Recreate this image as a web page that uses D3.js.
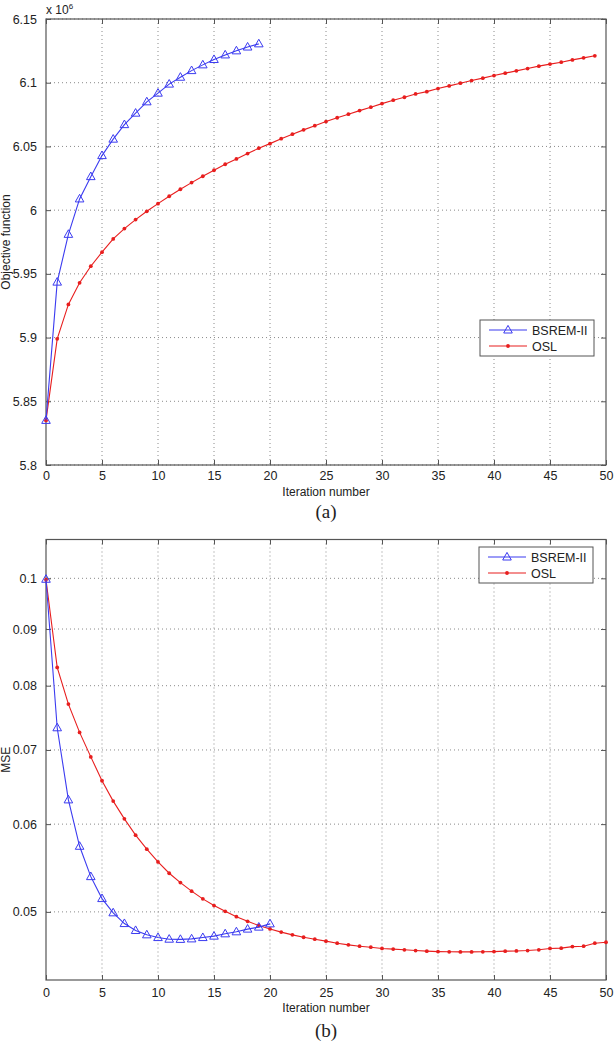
<!DOCTYPE html>
<html>
<head>
<meta charset="utf-8">
<script src="https://cdn.jsdelivr.net/npm/d3@7"></script>
<style>
  body { margin: 0; background: #fff; }
  text { font-family: "Liberation Sans", Arial, sans-serif; fill: #222; }
  .cap { font-family: "Liberation Serif", "Times New Roman", serif; }
</style>
</head>
<body>
<svg id="fig" width="614" height="1050"></svg>
<script>
// iteration number = index in each array
var objBsrem = [5.835, 5.9435, 5.981, 6.0088, 6.0263, 6.0428, 6.0557, 6.0671, 6.0761, 6.085,
                6.0918, 6.0989, 6.1043, 6.1095, 6.114, 6.1182, 6.1218, 6.125, 6.128, 6.1305];
var objOsl = [5.835, 5.899, 5.926, 5.943, 5.956, 5.967, 5.9774, 5.9855, 5.9926, 5.9991,
              6.0051, 6.0109, 6.0164, 6.0216, 6.0266, 6.0313, 6.0360, 6.0402, 6.0444, 6.0486,
              6.0522, 6.0561, 6.0596, 6.0630, 6.0663, 6.0695, 6.0725, 6.0753, 6.0781, 6.0808,
              6.0836, 6.0863, 6.0886, 6.0912, 6.0930, 6.0954, 6.0975, 6.0996, 6.1017, 6.1036,
              6.1056, 6.1075, 6.1093, 6.1111, 6.1130, 6.1146, 6.1161, 6.1179, 6.1195, 6.1211];
var mseBsrem = [0.0998, 0.0733, 0.0631, 0.0573, 0.0538, 0.0514, 0.0499, 0.0488, 0.0481, 0.04767,
                0.0474, 0.04724, 0.04722, 0.04727, 0.0474, 0.04754, 0.04777, 0.04797, 0.04824, 0.04844,
                0.04877];
var mseOsl = [0.0997, 0.0831, 0.0770, 0.0726, 0.0690, 0.06566, 0.06294, 0.06066, 0.05864, 0.05696,
              0.05547, 0.05418, 0.05314, 0.05220, 0.05137, 0.05066, 0.05006, 0.04950, 0.04903, 0.04860,
              0.04826, 0.04794, 0.04767, 0.04743, 0.04724, 0.04705, 0.04685, 0.04669, 0.04656, 0.04646,
              0.04634, 0.04628, 0.04621, 0.04614, 0.04608, 0.04604, 0.04602, 0.04601, 0.04601, 0.04602,
              0.04604, 0.04608, 0.0461, 0.04614, 0.04621, 0.04634, 0.04637, 0.04652, 0.04656, 0.04685,
              0.04694];

var xTicks = [0, 5, 10, 15, 20, 25, 30, 35, 40, 45, 50];
var objTicks = [5.8, 5.85, 5.9, 5.95, 6, 6.05, 6.1, 6.15];
var mseTicks = [0.05, 0.06, 0.07, 0.08, 0.09, 0.1];
var seriesNames = ["BSREM-II", "OSL"];

var blue = "#3b3bf0", red = "#e81e1e";
var svg = d3.select("#fig");

// hollow triangle like matlab '^'
var triPath = "M0,-4.6L4.3,3L-4.3,3Z";

function drawPanel(cfg) {
  var g = svg.append("g");
  var x = d3.scaleLinear().domain([0, 50]).range([46, 606]);
  var y = cfg.y;
  var top = y.range()[1], bot = y.range()[0];

  // dotted grid
  g.selectAll(".vg").data(xTicks.slice(1, -1)).enter().append("line")
      .attr("x1", x).attr("x2", x).attr("y1", top).attr("y2", bot)
      .attr("stroke", "#8a8a8a").attr("stroke-dasharray", "1,3");
  g.selectAll(".hg").data(cfg.yTicks).enter().append("line")
      .attr("x1", 46).attr("x2", 606).attr("y1", y).attr("y2", y)
      .attr("stroke", "#8a8a8a").attr("stroke-dasharray", "1,3");

  // axes, ticks inside like matlab
  g.append("g").attr("transform", "translate(0," + bot + ")")
      .call(d3.axisBottom(x).tickValues(xTicks).tickSizeInner(-5).tickSizeOuter(0).tickPadding(cfg.tickPad));
  g.append("g").attr("transform", "translate(0," + top + ")")
      .call(d3.axisTop(x).tickValues(xTicks).tickSizeInner(-5).tickSizeOuter(0).tickFormat(""));
  g.append("g").attr("transform", "translate(46,0)")
      .call(d3.axisLeft(y).tickValues(cfg.yTicks).tickSizeInner(-5).tickSizeOuter(0).tickPadding(9)
        .tickFormat(cfg.fmt));
  g.append("g").attr("transform", "translate(606,0)")
      .call(d3.axisRight(y).tickValues(cfg.yTicks).tickSizeInner(-5).tickSizeOuter(0).tickFormat(""));
  g.selectAll(".domain").remove();
  g.selectAll(".tick line").attr("stroke", "#555");
  g.selectAll(".tick text").style("font-size", "12.5px").attr("fill", "#222");
  g.append("rect").attr("x", 46).attr("y", top).attr("width", 560).attr("height", bot - top)
      .attr("fill", "none").attr("stroke", "#555").attr("stroke-width", 1.2);

  // lines
  var line = d3.line().x(function(d, i) { return x(i); }).y(function(d) { return y(d); });
  g.append("path").datum(cfg.osl).attr("d", line)
      .attr("fill", "none").attr("stroke", red).attr("stroke-width", 1.1);
  g.selectAll(".dot").data(cfg.osl).enter().append("circle")
      .attr("cx", function(d, i) { return x(i); }).attr("cy", y).attr("r", 1.9).attr("fill", red);
  g.append("path").datum(cfg.bsrem).attr("d", line)
      .attr("fill", "none").attr("stroke", blue).attr("stroke-width", 1.1);
  g.selectAll(".tri").data(cfg.bsrem).enter().append("path")
      .attr("d", triPath)
      .attr("transform", function(d, i) { return "translate(" + x(i) + "," + y(d) + ")"; })
      .attr("fill", "none").attr("stroke", blue).attr("stroke-width", 1);

  // labels
  g.append("text").attr("x", 326).attr("y", bot + cfg.labY).attr("text-anchor", "middle")
      .style("font-size", "12px").text("Iteration number");
  g.append("text").attr("transform", "translate(10," + ((top + bot) / 2) + ") rotate(-90)")
      .attr("text-anchor", "middle").style("font-size", "12px").text(cfg.ylabel);
  g.append("text").attr("class", "cap").attr("x", 326).attr("y", bot + cfg.capY)
      .attr("text-anchor", "middle").style("font-size", "19px").text(cfg.caption);

  // legend
  var L = cfg.legend;
  var lg = g.append("g").attr("transform", "translate(" + L[0] + "," + L[1] + ")");
  lg.append("rect").attr("width", 114).attr("height", 36)
      .attr("fill", "#fff").attr("stroke", "#555").attr("stroke-width", 1);
  var rows = lg.selectAll(".row").data(seriesNames).enter().append("g")
      .attr("transform", function(d, i) { return "translate(0," + (10 + i * 16) + ")"; });
  rows.append("line").attr("x1", 9).attr("x2", 47).attr("y1", 0).attr("y2", 0)
      .attr("stroke", function(d, i) { return i ? red : blue; }).attr("stroke-width", 1.1);
  rows.filter(function(d, i) { return i == 0; }).append("path").attr("d", triPath)
      .attr("transform", "translate(28,0)").attr("fill", "none").attr("stroke", blue);
  rows.filter(function(d, i) { return i == 1; }).append("circle")
      .attr("cx", 28).attr("r", 1.9).attr("fill", red);
  rows.append("text").attr("x", 52).attr("dy", "0.36em").style("font-size", "12.5px")
      .text(function(d) { return d; });
  return g;
}

var top1 = drawPanel({
  y: d3.scaleLinear().domain([5.8, 6.15]).range([465, 19]),
  yTicks: objTicks, fmt: d3.format("~g"),
  bsrem: objBsrem, osl: objOsl,
  tickPad: 6, labY: 31, capY: 53,
  ylabel: "Objective function", caption: "(a)", legend: [480, 320]
});
// exponent above the y axis
var ex = top1.append("text").attr("x", 46).attr("y", 14).style("font-size", "12px");
ex.append("tspan").text("x 10");
ex.append("tspan").attr("dy", -5).style("font-size", "8px").text("6");

drawPanel({
  y: d3.scaleLog().domain([0.0434, 0.1084]).range([980, 539.5]),
  yTicks: mseTicks, fmt: d3.format("~g"),
  bsrem: mseBsrem, osl: mseOsl,
  tickPad: 8, labY: 32, capY: 57,
  ylabel: "MSE", caption: "(b)", legend: [479, 547]
});
</script>
</body>
</html>
